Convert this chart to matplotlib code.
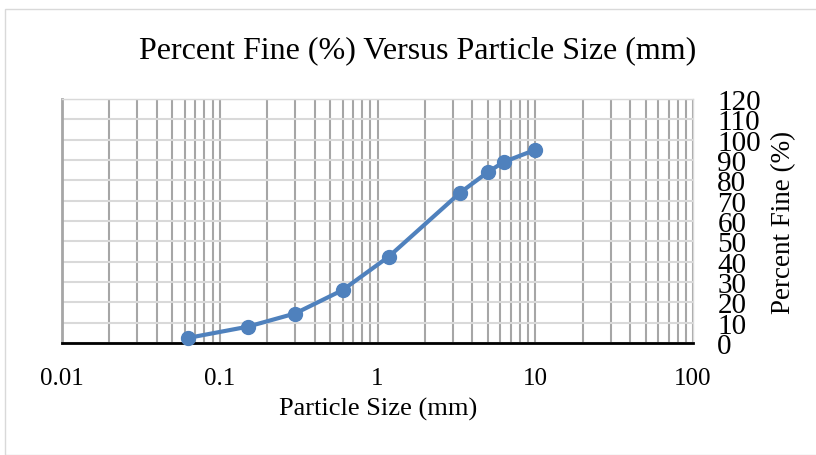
import matplotlib
matplotlib.use("Agg")
import matplotlib.pyplot as plt
from matplotlib.patches import Rectangle
from matplotlib.ticker import LogLocator, FixedLocator, NullFormatter

# sieve sizes (mm) and percent passing
particle_size = [0.063, 0.15, 0.3, 0.6, 1.18, 3.35, 5.0, 6.3, 10.0]
percent_fine = [2.5, 8, 14.5, 26, 42.5, 74, 84, 89, 95]

x_ticks = [0.01, 0.1, 1, 10, 100]
x_tick_labels = ["0.01", "0.1", "1", "10", "100"]
y_ticks = list(range(0, 121, 10))

plt.rcParams["font.family"] = ["Liberation Serif", "DejaVu Serif"]

fig = plt.figure(figsize=(8.16, 4.56), dpi=100)
fig.patches.append(
    Rectangle((5 / 816, 0.0), 1.0, 1 - 10 / 456, transform=fig.transFigure,
              fill=False, edgecolor="#d9d9d9", linewidth=1.0)
)

ax = fig.add_axes([62 / 816, 1 - 344 / 456, (693 - 62) / 816, (344 - 100) / 456])
ax.set_xscale("log")
ax.set_xlim(0.01, 100)
ax.set_ylim(0, 120)

ax.plot(particle_size, percent_fine, color="#4f81bd", linewidth=3,
        marker="o", markersize=10, zorder=3, clip_on=False)

ax.xaxis.set_major_locator(FixedLocator(x_ticks))
ax.set_xticklabels(x_tick_labels)
ax.xaxis.set_minor_locator(LogLocator(base=10, subs=range(2, 10), numticks=20))
ax.xaxis.set_minor_formatter(NullFormatter())
ax.set_yticks(y_ticks)

ax.grid(True, which="both", axis="x", color="#a6a6a6", linewidth=1.5)
ax.grid(True, which="major", axis="y", color="#d9d9d9", linewidth=1.5)
ax.set_axisbelow(True)

ax.yaxis.tick_right()
ax.tick_params(axis="both", which="both", length=0)
ax.tick_params(axis="x", labelsize=18, pad=17)
ax.tick_params(axis="y", labelsize=21, pad=17.5)
for lbl in ax.get_yticklabels():
    lbl.set_horizontalalignment("left")

for side in ("top", "right"):
    ax.spines[side].set_color("#d9d9d9")
    ax.spines[side].set_linewidth(1.0)
ax.spines["left"].set_color("#a6a6a6")
ax.spines["left"].set_linewidth(2.0)
ax.spines["bottom"].set_color("black")
ax.spines["bottom"].set_linewidth(2.0)

fig.text(378 / 816, 1 - 409 / 456, "Particle Size (mm)",
         ha="center", va="center", fontsize=19)
fig.text(784 / 816, 1 - 222 / 456, "Percent Fine (%)", rotation=90,
         ha="center", va="center", fontsize=19.5)
fig.text(418 / 816, 1 - 51 / 456, "Percent Fine (%) Versus Particle Size (mm)",
         ha="center", va="center", fontsize=23)

fig.savefig("out.png", dpi=100)
